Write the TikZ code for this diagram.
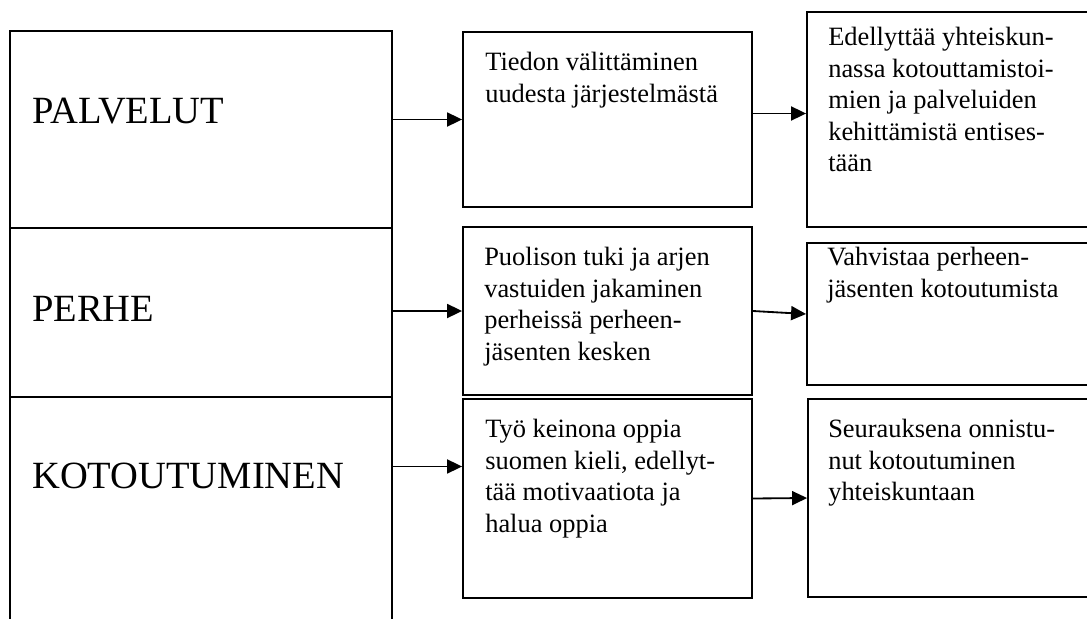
\documentclass[tikz,border=0pt]{standalone}
\usepackage{fontspec}
\setmainfont{Liberation Serif}
\usetikzlibrary{arrows.meta,fit}

\tikzset{
  box/.style={draw, line width=1.3pt, inner sep=0pt},
  head/.style={anchor=base west, inner sep=0pt, font=\fontsize{27.4}{32}\selectfont},
  % \strut on the first line: the north anchor lies 0.7 baselineskip above the first baseline
  txt/.style={anchor=north west, inner sep=0pt, align=left, font=\fontsize{18.8}{22.4}\selectfont,
    execute at begin node=\strut},
  arr/.style={line width=1.3pt, -{Triangle[length=3.75mm,width=3.5mm]}}
}

\begin{document}
\begin{tikzpicture}[x=0.025cm, y=-0.025cm]
  \clip (0,0) rectangle (1087,619);
  \fill[white] (0,0) rectangle (1087,619);

  % left column
  \node[box, fit={(10,31) (392,228)}] (l1) {};
  \node[box, fit={(10,228) (392,397)}] (l2) {};
  \node[box, fit={(10,397) (392,640)}] (l3) {};
  \node[head] (l1t) at (32,123) {PALVELUT};
  \node[head] (l2t) at (32,321) {PERHE};
  \node[head] (l3t) at (32,488) {KOTOUTUMINEN};

  % middle column
  \node[box, fit={(463,32) (752,207)}] (m1) {};
  \node[box, fit={(463,227) (752,395)}] (m2) {};
  \node[box, fit={(463,399) (752,598)}] (m3) {};
  \node[txt] (m1t) at (485,52) {Tiedon välittäminen\\uudesta järjestelmästä};
  \node[txt] (m2t) at (484,247) {Puolison tuki ja arjen\\vastuiden jakaminen\\perheissä perheen-\\jäsenten kesken};
  \node[txt] (m3t) at (485,419) {Työ keinona oppia\\suomen kieli, edellyt-\\tää motivaatiota ja\\halua oppia};

  % right column
  \node[box, fit={(807,12) (1100,227)}] (r1) {};
  \node[box, fit={(807,243) (1100,385)}] (r2) {};
  \node[box, fit={(808,399) (1100,597)}] (r3) {};
  \node[txt] (r1t) at (828,27) {Edellyttää yhteiskun-\\nassa kotouttamistoi-\\mien ja palveluiden\\kehittämistä entises-\\tään};
  \node[txt] (r2t) at (827,247) {Vahvistaa perheen-\\jäsenten kotoutumista};
  \node[txt] (r3t) at (828,419) {Seurauksena onnistu-\\nut kotoutuminen\\yhteiskuntaan};

  % arrows
  \draw[arr] (m1.west -| l1.east) -- (m1.west);
  \draw[arr] (m2.west -| l2.east) -- (m2.west);
  \draw[arr] ([yshift=0.8cm]m3.west -| l3.east) -- ([yshift=0.8cm]m3.west);
  \draw[arr] ([yshift=0.15cm]m1.east) -- ([yshift=0.15cm]r1.west);
  \draw[arr] (m2.east) -- (r2.west);
  \draw[arr] (m3.east) -- (r3.west);
\end{tikzpicture}
\end{document}
